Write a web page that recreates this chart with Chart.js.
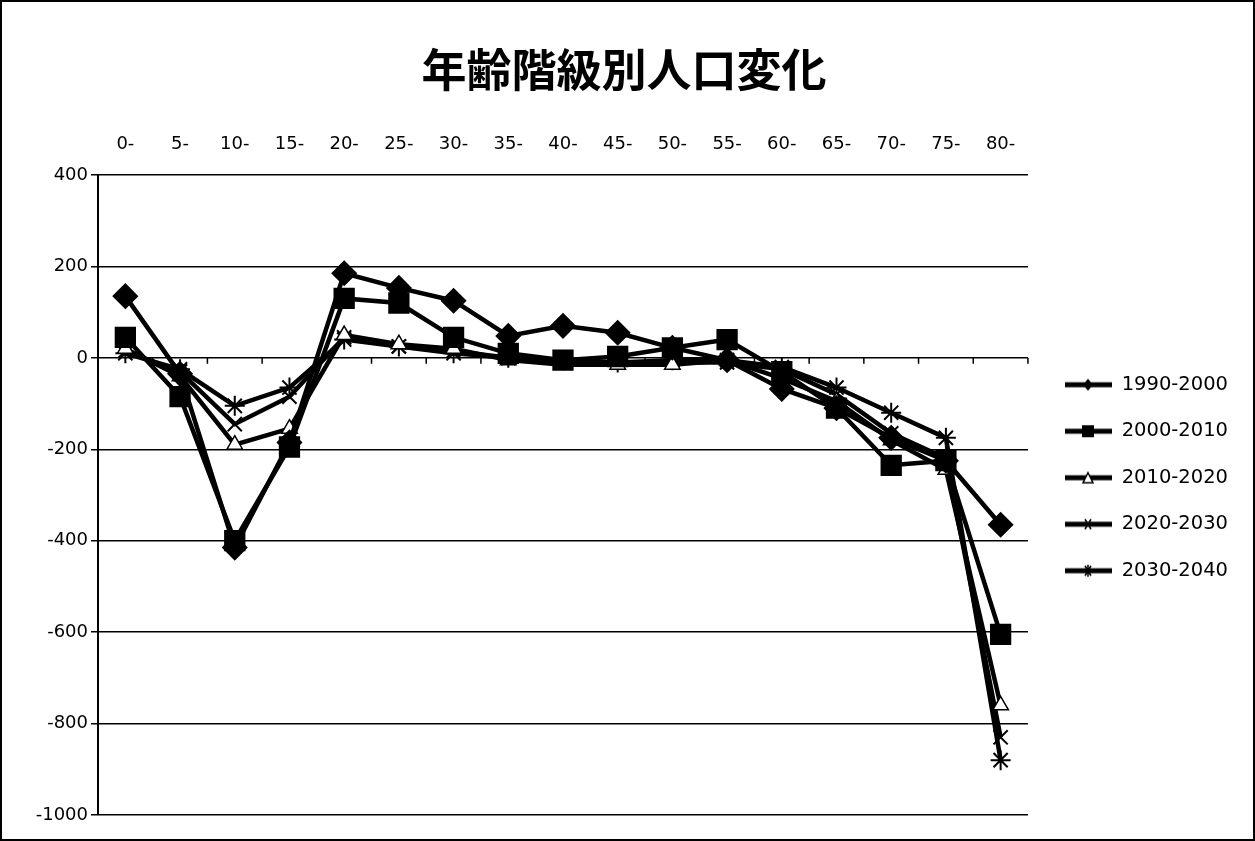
<!DOCTYPE html>
<html>
<head>
<meta charset="utf-8">
<script src="https://cdn.jsdelivr.net/npm/chart.js@4.4.0/dist/chart.umd.min.js"></script>
<style>
  html, body { margin: 0; padding: 0; background: #fff; }
  #wrap { position: relative; width: 1255px; height: 841px; box-sizing: border-box; border: 2px solid #000; }
</style>
</head>
<body>
<div id="wrap"><canvas id="myChart" width="1251" height="837"></canvas></div>
<script>
// 年齢階級
const ageGroups = ['0-', '5-', '10-', '15-', '20-', '25-', '30-', '35-', '40-', '45-', '50-', '55-', '60-', '65-', '70-', '75-', '80-'];
const seriesNames = ['1990-2000', '2000-2010', '2010-2020', '2020-2030', '2030-2040'];

// 各期間の人口変化
const change1990 = [135, -35, -415, -185, 185, 153, 125, 48, 70, 55, 22, -5, -68, -110, -175, -225, -365];
const change2000 = [45, -85, -400, -195, 130, 120, 45, 10, -5, 3, 22, 40, -30, -110, -235, -225, -605];
const change2010 = [20, -40, -190, -155, 50, 30, 20, -5, -15, -15, -15, -5, -45, -95, -180, -245, -760];
const change2020 = [15, -30, -145, -85, 45, 25, 15, 0, -10, -10, -10, -10, -25, -80, -165, -220, -830];
const change2030 = [10, -25, -105, -65, 40, 25, 10, 0, -5, -10, -5, -5, -20, -65, -120, -175, -880];

const yTicks = [400, 200, 0, -200, -400, -600, -800, -1000];

const allData = [change1990, change2000, change2010, change2020, change2030];
const markers = ['rectRot', 'rect', 'triangle', 'crossRot', 'star'];
const markerSizes = [12, 14, 9, 10, 10];
const markerFills = ['#000', '#000', '#fff', '#000', '#000'];

// 凡例用：線＋マーカーの小さな画像（左側は余白）
function legendImage(style, fill) {
    let c = document.createElement('canvas');
    c.width = 57; c.height = 14;
    let g = c.getContext('2d');
    g.strokeStyle = '#000';
    g.lineWidth = 5;
    g.beginPath(); g.moveTo(10, 7); g.lineTo(57, 7); g.stroke();
    g.lineWidth = 1.5;
    g.fillStyle = fill;
    let m = 33;
    if (style === 'rectRot') {
        g.fillStyle = '#000';
        g.beginPath(); g.moveTo(m, 1); g.lineTo(m + 5, 7); g.lineTo(m, 13); g.lineTo(m - 5, 7); g.closePath(); g.fill();
    } else if (style === 'rect') {
        g.fillStyle = '#000';
        g.fillRect(m - 6, 1, 12, 12);
    } else if (style === 'triangle') {
        g.beginPath(); g.moveTo(m, 2); g.lineTo(m + 5, 12); g.lineTo(m - 5, 12); g.closePath(); g.fill(); g.stroke();
    } else if (style === 'crossRot') {
        g.beginPath(); g.moveTo(m - 3, 2); g.lineTo(m + 3, 12); g.moveTo(m + 3, 2); g.lineTo(m - 3, 12); g.stroke();
    } else {
        g.beginPath(); g.moveTo(m - 3, 2); g.lineTo(m + 3, 12); g.moveTo(m + 3, 2); g.lineTo(m - 3, 12);
        g.moveTo(m, 1); g.lineTo(m, 13); g.stroke();
    }
    return c;
}

const datasets = seriesNames.map((name, i) => ({
    label: name,
    data: allData[i],
    borderColor: '#000',
    backgroundColor: markerFills[i],
    borderWidth: 4.5,
    pointStyle: markers[i],
    pointRadius: markerSizes[i],
    pointBorderColor: '#000',
    pointBackgroundColor: markerFills[i],
    pointBorderWidth: i >= 3 ? 2 : 1.5,
    tension: 0
}));

const legendImages = seriesNames.map((n, i) => legendImage(markers[i], markerFills[i]));

const axisFont = { family: '"DejaVu Sans", Verdana, sans-serif', size: 18 };

// 0の線に区切りの目盛りを描く
const zeroTicks = {
    id: 'zeroTicks',
    afterDatasetsDraw(chart) {
        let x = chart.scales.x, y = chart.scales.y;
        let y0 = y.getPixelForValue(0);
        let g = chart.ctx;
        g.save();
        g.strokeStyle = '#000';
        g.lineWidth = 1.5;
        g.beginPath();
        for (let i = 0; i <= ageGroups.length; i++) {
            let px = x.getPixelForValue(i - 0.5);
            g.moveTo(px, y0);
            g.lineTo(px, y0 + 6);
        }
        g.stroke();
        g.restore();
    }
};

let ctx = document.getElementById('myChart').getContext('2d');
let myChart = new Chart(ctx, {
    type: 'line',
    data: { labels: ageGroups, datasets: datasets },
    plugins: [zeroTicks],
    options: {
        responsive: false,
        animation: false,
        layout: { padding: { left: 8, right: 15, top: 0, bottom: 24 } },
        plugins: {
            title: {
                display: true,
                text: '年齢階級別人口変化',
                color: '#000',
                font: { family: '"Noto Sans CJK JP", sans-serif', size: 45, weight: 'bold' },
                padding: { top: 41, bottom: 28 }
            },
            legend: {
                position: 'right',
                title: { display: true, text: '', font: { size: 12 }, padding: 62 },
                labels: {
                    color: '#000',
                    font: { family: '"DejaVu Sans", Verdana, sans-serif', size: 19.5 },
                    usePointStyle: true,
                    pointStyleWidth: 57,
                    padding: 27,
                    generateLabels: function (chart) {
                        return chart.data.datasets.map((ds, i) => ({
                            text: ds.label,
                            pointStyle: legendImages[i],
                            fillStyle: '#000',
                            strokeStyle: '#000',
                            lineWidth: 0,
                            hidden: false,
                            datasetIndex: i,
                            fontColor: '#000'
                        }));
                    }
                }
            },
            tooltip: { enabled: false }
        },
        scales: {
            x: {
                position: 'top',
                offset: true,
                grid: { display: false, drawTicks: false },
                border: { display: false },
                afterFit: function (axis) { axis.height = 50; },
                ticks: {
                    color: '#000',
                    padding: 20,
                    maxRotation: 0,
                    font: axisFont
                }
            },
            y: {
                min: -1000,
                max: 400,
                afterBuildTicks: function (axis) {
                    axis.ticks = yTicks.map(v => ({ value: v }));
                },
                afterFit: function (axis) { axis.width = 88; },
                grid: { color: '#000', lineWidth: 1.5, drawTicks: true, tickLength: 7 },
                border: { color: '#000', width: 2 },
                ticks: {
                    color: '#000',
                    padding: 3,
                    font: axisFont,
                    callback: function (v) { return String(v); }
                }
            }
        }
    }
});
</script>
</body>
</html>
